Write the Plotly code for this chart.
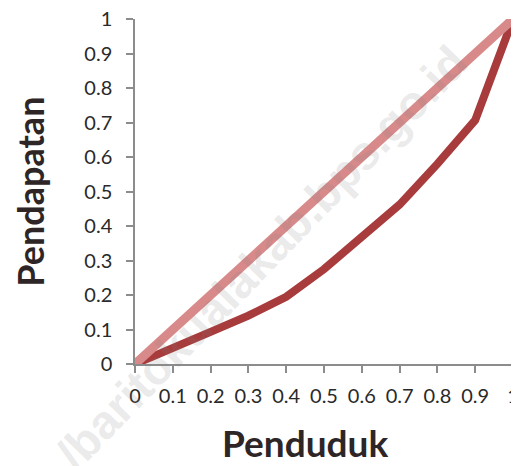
import plotly.graph_objects as go

# Data
penduduk = [0, 0.1, 0.2, 0.3, 0.4, 0.5, 0.6, 0.7, 0.8, 0.9, 1.0]
pendapatan = [0, 0.049, 0.093, 0.14, 0.195, 0.275, 0.365, 0.462, 0.58, 0.707, 1.0]
equality_x = [0, 1]
equality_y = [0, 1]
tick_vals = [0, 0.1, 0.2, 0.3, 0.4, 0.5, 0.6, 0.7, 0.8, 0.9, 1]
tick_text = ["0", "0.1", "0.2", "0.3", "0.4", "0.5", "0.6", "0.7", "0.8", "0.9", "1"]

fig = go.Figure()
fig.add_trace(go.Scatter(x=penduduk, y=pendapatan, mode="lines",
                         line=dict(color="#a83c3c", width=8), showlegend=False))
fig.add_trace(go.Scatter(x=equality_x, y=equality_y, mode="lines",
                         line=dict(color="#d88a8a", width=9), showlegend=False))

axis_common = dict(
    range=[0, 1], tickvals=tick_vals, ticktext=tick_text,
    showgrid=False, zeroline=False, showline=True, automargin=False,
    linecolor="#8c8c8c", linewidth=1.5, ticklabeloverflow="allow",
    ticks="outside", ticklen=7, tickwidth=1.5, tickcolor="#8c8c8c",
    tickfont=dict(family="Lato", size=20, color="#2a2a2a"),
)
fig.update_xaxes(**axis_common, ticklabelstandoff=6)
fig.update_yaxes(**axis_common, ticklabelstandoff=10)

fig.add_annotation(text="<b>Penduduk</b>", xref="paper", yref="paper",
                   x=0.45, y=-0.228, xanchor="center", yanchor="middle",
                   showarrow=False, font=dict(family="Lato", size=37, color="#2e2626"))
fig.add_annotation(text="<b>Pendapatan</b>", xref="paper", yref="paper",
                   x=-0.28, y=0.5, xanchor="center", yanchor="middle", textangle=-90,
                   showarrow=False, font=dict(family="Lato", size=36, color="#2e2626"))
fig.add_annotation(text="<b>/baritokualakab.bps.go.id</b>", xref="paper", yref="paper",
                   x=0.335, y=0.31, xanchor="center", yanchor="middle", textangle=-46,
                   showarrow=False,
                   font=dict(family="Liberation Sans", size=47, color="rgba(128,128,128,0.18)"))

fig.update_layout(
    width=511, height=458,
    margin=dict(l=127, r=6, t=11, b=102),
    paper_bgcolor="white", plot_bgcolor="white",
)
fig.write_html("out.html")
